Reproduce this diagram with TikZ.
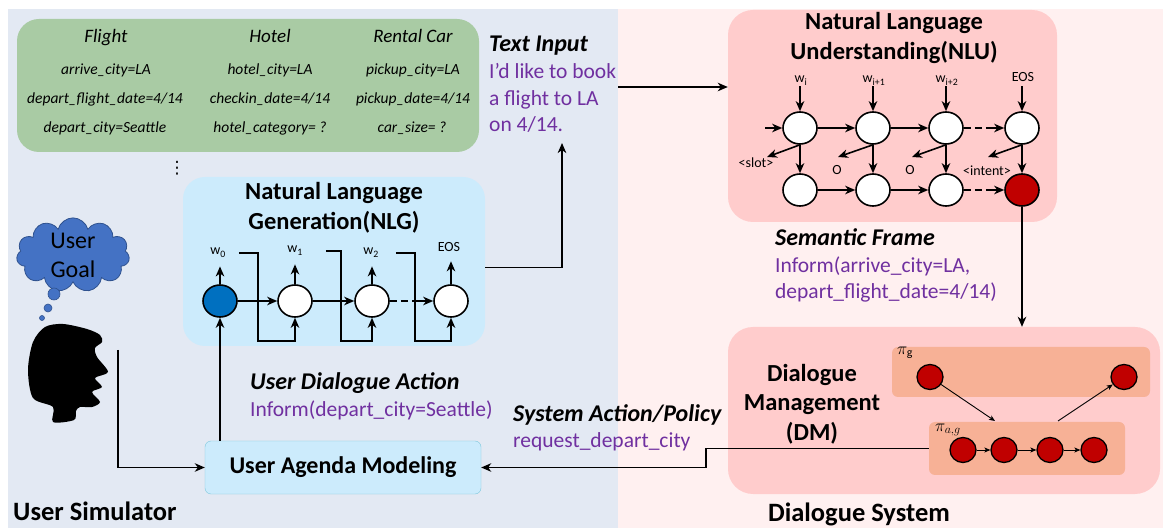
\documentclass[tikz,border=0pt]{standalone}
\usepackage{fontspec}
\setmainfont{Carlito}
\newfontfamily\symbfont{DejaVu Sans}
\usepackage{tikz}
\usetikzlibrary{shapes.geometric, shapes.symbols, arrows.meta, positioning}

\definecolor{simbg}{RGB}{227,233,243}
\definecolor{sysbg}{RGB}{255,240,240}
\definecolor{goalgreen}{RGB}{169,203,164}
\definecolor{nlgblue}{RGB}{204,235,252}
\definecolor{nlupink}{RGB}{255,204,204}
\definecolor{policysalmon}{RGB}{247,177,150}
\definecolor{darkred}{RGB}{192,0,0}
\definecolor{startblue}{RGB}{0,112,192}
\definecolor{cloudblue}{RGB}{68,114,196}
\definecolor{clouddark}{RGB}{47,82,143}
\definecolor{actpurple}{RGB}{112,48,160}
\definecolor{agendaedge}{RGB}{125,200,220}

\tikzset{
  module/.style={rounded corners=22pt, inner sep=0pt},
  policybox/.style={fill=policysalmon, rounded corners=6pt, inner sep=0pt},
  cell/.style={draw, ellipse, line width=1.6pt, fill=white, minimum width=34pt, minimum height=32pt, inner sep=0pt},
  pnode/.style={draw, ellipse, line width=1.3pt, fill=darkred, minimum width=26pt, minimum height=25pt, inner sep=0pt},
  conn/.style={line width=1.6pt, -{Stealth[length=10pt, width=8.5pt, inset=3pt]}},
  thinconn/.style={line width=0.9pt, -{Stealth[length=6pt, width=5pt, inset=1.5pt]}},
  blocktitle/.style={font=\fontsize{24.5}{30}\selectfont\bfseries, align=center, anchor=base},
  heading/.style={font=\fontsize{24}{28}\selectfont\bfseries\itshape, anchor=base west, inner sep=0pt},
  act/.style={font=\fontsize{21.5}{26.5}\selectfont, text=actpurple, align=left, anchor=base west, inner sep=0pt},
  slothead/.style={font=\fontsize{19}{22}\selectfont\itshape, anchor=base},
  slotval/.style={font=\fontsize{15.5}{18}\selectfont\itshape, anchor=base},
  tok/.style={font=\fontsize{14}{16}\selectfont, inner sep=1pt, anchor=base},
  panellabel/.style={font=\fontsize{26.5}{30}\selectfont\bfseries, inner sep=0pt},
  bubble/.style={circle, fill=cloudblue, draw=clouddark, line width=0.6pt, inner sep=0pt},
}

\begin{document}
\begin{tikzpicture}[x=1pt, y=1pt]
\useasboundingbox (0,0) rectangle (1163,528);

% Two halves
\fill[simbg] (8,0) rectangle (618,519);
\fill[sysbg] (618,0) rectangle (1163,519);
\node[panellabel, anchor=base west] (usim) at (13,8) {User Simulator};
\node[panellabel, anchor=base] (dsys) at (859,6) {Dialogue System};

% User goal slots
\node[module, fill=goalgreen, minimum width=462pt, minimum height=133pt] (goal) at (248,442.5) {};
\node[slothead] (flight) at (106,485) {Flight};
\node[slothead] (hotel) at (270,485) {Hotel};
\node[slothead] (car) at (413,485) {Rental Car};
\node[slotval] (f1) at (106,453) {arrive\_city=LA};
\node[slotval] (f2) at (105,424) {depart\_flight\_date=4/14};
\node[slotval] (f3) at (105,395) {depart\_city=Seattle};
\node[slotval] (h1) at (270,453) {hotel\_city=LA};
\node[slotval] (h2) at (270,424) {checkin\_date=4/14};
\node[slotval] (h3) at (270,395) {hotel\_category= ?};
\node[slotval] (r1) at (413,453) {pickup\_city=LA};
\node[slotval] (r2) at (413,424) {pickup\_date=4/14};
\node[slotval] (r3) at (412,395) {car\_size= ?};
\node[font=\fontsize{17}{20}\selectfont\symbfont] (more) at (177,360) {⋮};

% Cloud and head
\node[cloud, cloud puffs=11, cloud ignores aspect, draw=clouddark, fill=cloudblue, line width=0.8pt, minimum width=113pt, minimum height=66pt, align=center, inner sep=0pt, font=\fontsize{24}{29}\selectfont] (ugoal) at (73,273) {User\\Goal};
\node[bubble, minimum size=12pt] (b1) at (54,234) {};
\node[bubble, minimum size=8pt] (b2) at (48,220) {};
\node[bubble, minimum size=5pt] (b3) at (42,210) {};
\fill[black] plot[smooth cycle, tension=0.5] coordinates {(45,201) (63,204) (87,199) (100,193) (102,186) (95,180) (97,171) (108,156) (95,150) (102,141) (92,136) (100,126) (92,121) (80,121) (76,117) (74,108) (53,106) (53,121) (33,130) (28,158) (33,186)};
\coordinate (speak) at (118,178);

% User agenda modeling
\node[draw=agendaedge, fill=nlgblue, rounded corners=6pt, minimum width=276pt, minimum height=53pt, font=\fontsize{24}{28}\selectfont\bfseries] (uam) at (343,60.5) {User Agenda Modeling};
\draw[conn] (speak) |- (uam.west);

% NLG
\node[module, fill=nlgblue, minimum width=302pt, minimum height=169pt] (nlg) at (334,266.5) {};
\node[blocktitle] (nlgtitle) at (334,298) {Natural Language\\Generation(NLG)};
\node[cell, fill=startblue] (g1) at (220,227) {};
\node[cell] (g2) at (295,227) {};
\node[cell] (g3) at (372,227) {};
\node[cell] (g4) at (451,227) {};
\node[tok] (w0) at (218,273) {w\textsubscript{0}};
\node[tok] (w1) at (295,275) {w\textsubscript{1}};
\node[tok] (w2) at (371,273) {w\textsubscript{2}};
\node[tok] (weos) at (449,276) {EOS};
\draw[conn, shorten >=8pt] (g1.north) -- (g1.north |- w0.south);
\draw[conn, shorten >=8pt] (g2.north) -- (g2.north |- w1.south);
\draw[conn, shorten >=8pt] (g3.north) -- (g3.north |- w2.south);
\draw[conn, shorten >=8pt] (g4.north) -- (g4.north |- weos.south);
\draw[conn] (g1) -- (g2);
\draw[conn] (g2) -- (g3);
\path (g3.east) -- (g4.west) coordinate[pos=0.6] (gdash);
\draw[line width=1.6pt, dash pattern=on 7pt off 4pt] (g3.east) -- (gdash);
\draw[conn] (gdash) -- (g4.west);
\draw[conn] ([xshift=12pt]w0.east) -| (258,187) -| (g2.south);
\draw[conn] ([xshift=22pt]w1.east) -| (341,187) -| (g3.south);
\draw[conn] ([xshift=16pt]w2.east) -| (415,187) -| (g4.south);
\draw[conn] (uam.north -| g1) -- (g1.south);

% Text input
\node[heading] (tin) at (489,476) {Text Input};
\node[act] (tintext) at (489,396) {I'd like to book\\a flight to LA\\on 4/14.};
\coordinate (txtin) at (562,385);
\draw[conn] ([yshift=-6pt]nlg.east) -| (txtin);

% NLU
\node[module, fill=nlupink, rounded corners=25pt, minimum width=329pt, minimum height=212pt] (nlu) at (892.5,412) {};
\node[blocktitle] (nlutitle) at (894,468) {Natural Language\\Understanding(NLU)};
\coordinate (txtout) at (618,441);
\draw[conn] (txtout) -- (txtout -| nlu.west);
\node[cell] (u1) at (800,400) {};
\node[cell] (u2) at (873,400) {};
\node[cell] (u3) at (946,400) {};
\node[cell] (u4) at (1022,400) {};
\node[cell] (d1) at (800,338) {};
\node[cell] (d2) at (873,338) {};
\node[cell] (d3) at (946,338) {};
\node[cell, fill=darkred] (d4) at (1022,338) {};
\node[tok] (wi) at (801,445) {w\textsubscript{i}};
\node[tok] (wi1) at (874,445) {w\textsubscript{i+1}};
\node[tok] (wi2) at (947,445) {w\textsubscript{i+2}};
\node[tok] (ueos) at (1023,446) {EOS};
\draw[conn] (u1.north |- wi.south) -- (u1.north);
\draw[conn] (u2.north |- wi.south) -- (u2.north);
\draw[conn] (u3.north |- wi.south) -- (u3.north);
\draw[conn] (u4.north |- wi.south) -- (u4.north);
\coordinate (nluin) at (765,400);
\draw[conn] (nluin) -- (u1.west);
\draw[conn] (u1) -- (u2);
\draw[conn] (u2) -- (u3);
\path (u3.east) -- (u4.west) coordinate[pos=0.55] (udash);
\draw[line width=1.6pt, dash pattern=on 7pt off 4pt] (u3.east) -- (udash);
\draw[conn] (udash) -- (u4.west);
\draw[conn] (d1) -- (d2);
\draw[conn] (d2) -- (d3);
\path (d3.east) -- (d4.west) coordinate[pos=0.55] (ddash);
\draw[line width=1.6pt, dash pattern=on 7pt off 4pt] (d3.east) -- (ddash);
\draw[conn] (ddash) -- (d4.west);
\draw[conn] (u1) -- (d1);
\draw[conn] (u2) -- (d2);
\draw[conn] (u3) -- (d3);
\draw[conn] (u4) -- (d4);
\coordinate (o1) at (767,371);
\coordinate (o2) at (838,371);
\coordinate (o3) at (912,371);
\coordinate (o4) at (988,371);
\draw[conn] (u1.south) -- (o1);
\draw[conn] (u2.south) -- (o2);
\draw[conn] (u3.south) -- (o3);
\draw[conn] (u4.south) -- (o4);
\node[tok] (slot) at (756,360) {<slot>};
\node[tok] (olab1) at (837,353) {O};
\node[tok] (olab2) at (910,353) {O};
\node[tok] (intent) at (987,352) {<intent>};

% Semantic frame
\node[heading] (sem) at (775,282) {Semantic Frame};
\node[act] (semtext) at (775,229) {Inform(arrive\_city=LA,\\depart\_flight\_date=4/14)};

% DM
\node[module, fill=nlupink, rounded corners=25pt, minimum width=432pt, minimum height=167pt] (dm) at (944,117.5) {};
\draw[conn] (d4.south) -- (d4.south |- dm.north);
\node[blocktitle] (dmtitle) at (812,87) {Dialogue\\Management\\(DM)};
\node[policybox, minimum width=258pt, minimum height=50pt] (pig) at (1021,156) {};
\node[policybox, minimum width=196pt, minimum height=53pt] (piag) at (1027,79.5) {};
\node[font=\fontsize{17}{19}\selectfont] (piglab) at (905,175) {$\pi_{\mathrm{g}}$};
\node[font=\fontsize{17}{19}\selectfont] (piaglab) at (948,98) {$\pi_{a,g}$};
\node[pnode] (p1) at (930,151) {};
\node[pnode] (p2) at (1124,151) {};
\node[pnode] (q1) at (963,78) {};
\node[pnode] (q2) at (1004,78) {};
\node[pnode] (q3) at (1050,78) {};
\node[pnode] (q4) at (1094,78) {};
\draw[thinconn] (q1) -- (q2);
\draw[thinconn] (q2) -- (q3);
\draw[thinconn] (q3) -- (q4);
\coordinate (gin) at (995,107);
\coordinate (gout) at (1058,107);
\draw[thinconn] (p1) -- (gin);
\draw[thinconn] (gout) -- (p2);

% Actions
\node[heading] (uda) at (250,138) {User Dialogue Action};
\node[act] (udatext) at (250,111) {Inform(depart\_city=Seattle)};
\node[heading] (sap) at (513,106) {System Action/Policy};
\node[act] (saptext) at (513,81) {request\_depart\_city};
\draw[conn] (piag.west) -- ++(-223,0) |- (uam.east);
\end{tikzpicture}
\end{document}
